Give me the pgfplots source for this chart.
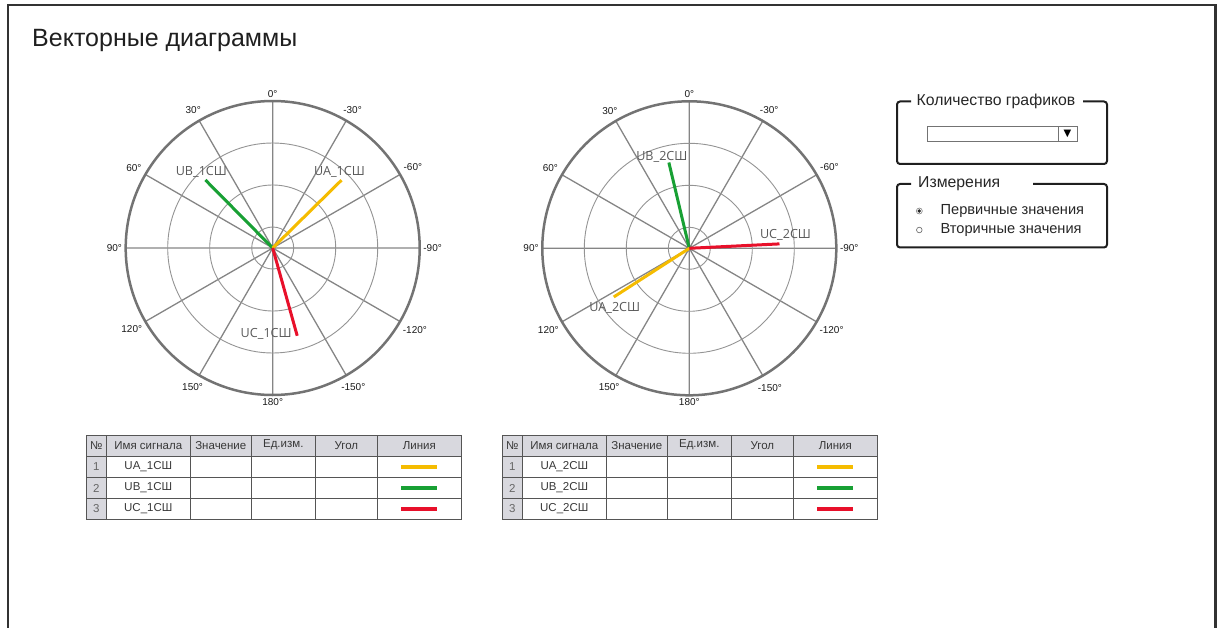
\documentclass[border=0pt]{standalone}
\usepackage{pgfplots}
\pgfplotsset{compat=1.18}
\usepgfplotslibrary{polar}
\usepackage{fontspec}
\setmainfont{Liberation Sans}
\newfontfamily\labfont{Open Sans}
\newfontfamily\symfont{DejaVu Sans}
\definecolor{cyel}{RGB}{245,188,0}
\definecolor{cgrn}{RGB}{24,160,52}
\definecolor{cred}{RGB}{232,16,42}
\definecolor{frame}{RGB}{50,50,50}
\definecolor{hdr}{RGB}{216,216,222}
\definecolor{tline}{RGB}{85,85,85}
\tikzset{lab/.style={font=\labfont\fontsize{12.6}{15}\selectfont, text=black!65}}
\pgfplotsset{
  vecaxis/.style={
    scale only axis, width=294pt, height=294pt, anchor=center,
    xmin=0, xmax=360, ymin=0, ymax=3.5,
    xtick={0,30,...,330},
    xticklabels={-90°,-60°,-30°,0°,30°,60°,90°,120°,150°,180°,-150°,-120°},
    ytick={0.5,1.5,2.5}, yticklabels={},
    xmajorgrids, ymajorgrids,
    major x grid style={draw=black!48, line width=1.3pt},
    major y grid style={draw=black!42, line width=0.9pt},
    x axis line style={draw=black!55, line width=2.5pt},
    y axis line style={draw=none},
    tick style={draw=none},
    xticklabel style={font=\fontsize{10}{12}\selectfont, text=black!90, inner sep=3.5pt},
    vec/.style={line width=3pt, no marks},
  }
}
\begin{document}
\begin{tikzpicture}
\useasboundingbox (0,0) rectangle (1218pt,-628pt);
\begin{scope}[x=1pt,y=-1pt]
% outer frame
\draw[frame, line width=2.5pt] (8,628) -- (8,5) -- (1215.5,5) -- (1215.5,628);
\node[anchor=base west, inner sep=0, text=black!88, font=\fontsize{25}{29}\selectfont] at (32,47) {Векторные диаграммы};
% group boxes
\draw[black!88, line width=2pt, rounded corners=3pt] (911,101.5) -- (897,101.5) -- (897,164) -- (1107,164) -- (1107,101.5) -- (1083,101.5);
\node[anchor=west, inner sep=0, text=black!85, font=\fontsize{15.8}{18}\selectfont] at (916.5,101.5) {Количество графиков};
\draw[black!55, line width=0.8pt] (927,126.5) rectangle (1077,141);
\draw[black!55, line width=0.8pt] (1058,126.5) -- (1058,141);
\node[inner sep=0, font=\symfont\fontsize{10}{11}\selectfont] at (1067.5,134) {▼};
\draw[black!88, line width=2pt, rounded corners=3pt] (911,184) -- (897,184) -- (897,247.5) -- (1107,247.5) -- (1107,184) -- (1033,184);
\node[anchor=west, inner sep=0, text=black!85, font=\fontsize{15.8}{18}\selectfont] at (918,184) {Измерения};
\draw[black!50, line width=0.6pt] (919.3,211) circle (3);
\fill[black!85] (919.3,211) circle (1.9);
\draw[black!55, line width=0.7pt] (919.3,230) circle (2.8);
\node[anchor=west, inner sep=0, text=black!85, font=\fontsize{14.6}{17}\selectfont] at (940.5,211) {Первичные значения};
\node[anchor=west, inner sep=0, text=black!85, font=\fontsize{14.6}{17}\selectfont] at (940.5,230) {Вторичные значения};
% tables
\foreach \ox/\n in {0/1,416/2} {
  \begin{scope}[xshift=\ox pt]
  \fill[hdr] (86,435) rectangle (461,456.5);
  \fill[hdr] (86,456.5) rectangle (106.7,519.5);
  \draw[tline, line width=0.8pt] (86,435) rectangle (461,519.5);
  \foreach \yy in {456.5,477.5,498.5} \draw[tline, line width=0.8pt] (86,\yy) -- (461,\yy);
  \foreach \xx in {106.7,190,251.7,315,377.7} \draw[tline, line width=0.8pt] (\xx,435) -- (\xx,519.5);
  \begin{scope}[every node/.style={inner sep=0, text=black!78, font=\fontsize{11.5}{13}\selectfont}]
  \node at (96.3,445.5) {№};
  \node at (148.3,445.5) {Имя сигнала};
  \node at (220.8,445.5) {Значение};
  \node at (283.3,444.5) {Ед.изм.};
  \node at (346.3,445.5) {Угол};
  \node at (419.3,445.5) {Линия};
  \node[text=black!60] at (96.3,467) {1};
  \node[text=black!60] at (96.3,488) {2};
  \node[text=black!60] at (96.3,509) {3};
  \node at (148.3,467) {UA\_\n СШ};
  \node at (148.3,488) {UB\_\n СШ};
  \node at (148.3,509) {UC\_\n СШ};
  \end{scope}
  \draw[cyel, line width=3.5pt] (401,467) -- (437,467);
  \draw[cgrn, line width=3.5pt] (401,488) -- (437,488);
  \draw[cred, line width=3.5pt] (401,509) -- (437,509);
  \end{scope}
}
\end{scope}
% polar diagram 1
\begin{polaraxis}[vecaxis, at={(272.7pt,-248pt)}]
\addplot[vec, cgrn] coordinates {(0,0) (134.7,2.28)} node[lab, pos=1, xshift=-4pt, yshift=8pt] {UB\_1СШ};
\addplot[vec, cyel] coordinates {(0,0) (44.6,2.30)} node[lab, pos=1, xshift=-2pt, yshift=8pt] {UA\_1СШ};
\addplot[vec, cred] coordinates {(0,0) (285.6,2.17)} node[lab, pos=1, xshift=-31pt, yshift=2pt] {UC\_1СШ};
\end{polaraxis}
% polar diagram 2
\begin{polaraxis}[vecaxis, at={(689.3pt,-248.3pt)}]
\addplot[vec, cgrn] coordinates {(0,0) (103.4,2.10)} node[lab, pos=1, xshift=-7pt, yshift=6pt] {UB\_2СШ};
\addplot[vec, cyel] coordinates {(0,0) (212.8,2.14)} node[lab, pos=1, xshift=1pt, yshift=-11pt] {UA\_2СШ};
\addplot[vec, cred] coordinates {(0,0) (2.8,2.15)} node[lab, pos=1, xshift=6pt, yshift=9pt] {UC\_2СШ};
\end{polaraxis}
\end{tikzpicture}
\end{document}
